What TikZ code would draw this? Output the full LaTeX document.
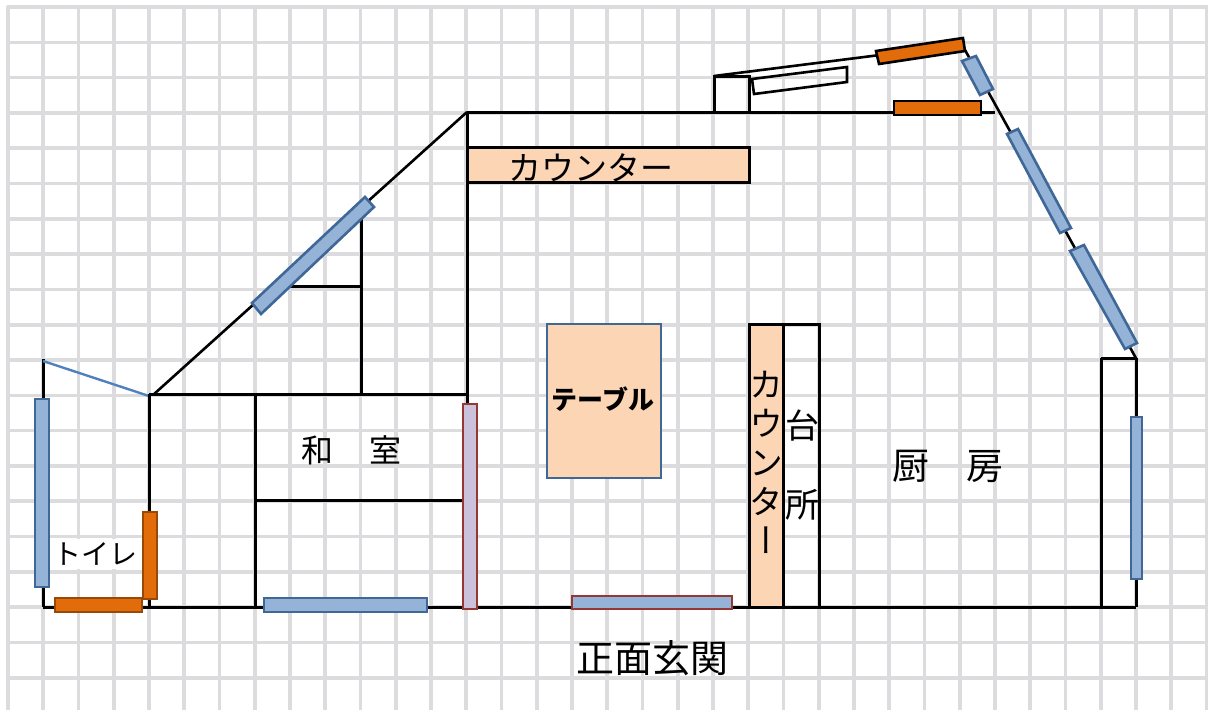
\documentclass[tikz,border=0pt]{standalone}
\usepackage{fontspec}
\newfontfamily\jpfont{Noto Sans CJK JP}
\newfontfamily\jpvert[RawFeature={+vert}]{Noto Sans CJK JP}
\definecolor{gridgray}{HTML}{DCDCDE}
\definecolor{winblue}{HTML}{95B3D7}
\definecolor{winedge}{HTML}{3F6797}
\definecolor{winorange}{HTML}{E36C0A}
\definecolor{orangeedge}{HTML}{984807}
\definecolor{lilac}{HTML}{CCC1DA}
\definecolor{dooredge}{HTML}{953735}
\definecolor{peach}{HTML}{FCD5B5}
\definecolor{thinblue}{HTML}{4F81BD}
\begin{document}
\begin{tikzpicture}[x=1pt, y=-1pt]
	\tikzset{
		gridline/.style={draw=gridgray, line width=3.6pt},
		wall/.style={draw=black, line width=3pt},
		thinwall/.style={draw=black, line width=2.6pt},
		bluewin/.style={draw=winedge, fill=winblue, line width=2.6pt},
		orangewin/.style={draw=orangeedge, fill=winorange, line width=2.6pt},
		blackwin/.style={draw=black, fill=winorange, line width=2.6pt},
		reddoor/.style={draw=dooredge, line width=2.6pt},
		counterbox/.style={draw=black, fill=peach, line width=3pt},
		label/.style={inner sep=0pt, align=center}
	}
	\useasboundingbox (0,0) rectangle (1208,710);

	% Grid
	\foreach \k in {0,...,34}
		\draw[gridline] ({8+35.25*\k},5.5) -- ({8+35.25*\k},710);
	\foreach \k in {0,...,19}
		\draw[gridline] (6.5,{7+35.3*\k}) -- (1208,{7+35.3*\k});

	% Outer walls
	\draw[wall] (467,112) -- (995,112);
	\draw[wall] (467,112) -- (467,607);
	\draw[wall] (43,607) -- (1136,607);
	\draw[wall] (43,359) -- (43,607);
	\draw[wall] (1136,358) -- (1136,607);
	\draw[wall] (1101,358) -- (1136,358);
	\draw[wall] (1101,358) -- (1101,607);
	\draw[thinwall] (153,395) -- (467,112);
	\draw[thinwall] (965,50) -- (1137,360);
	\draw[draw=thinblue, line width=2.4pt] (43,361) -- (149,396);

	% Inner walls
	\draw[wall] (149,394) -- (149,607);
	\draw[wall] (149,394) -- (467,394);
	\draw[wall] (255,394) -- (255,607);
	\draw[wall] (255,500) -- (467,500);
	\draw[wall] (361,217) -- (361,394);
	\draw[wall] (288,286.5) -- (361,286.5);
	\draw[wall] (714,112) -- (714,76) -- (749,76) -- (749,112);
	\draw[thinwall] (714,76) -- (880,55);
	\draw[wall] (819,607) -- (819,324) -- (783,324) -- (783,607);

	% Counters and table
	\draw[counterbox] (467,147) rectangle (749,182);
	\draw[counterbox] (749,324) rectangle (783,607);
	\draw[draw=winedge, fill=peach, line width=2.4pt] (547,324) rectangle (661,478);
	\draw[thinwall] (752,79) -- (847,67) -- (847,82) -- (754,94) -- cycle;

	% Windows
	\draw[bluewin] (35,399) rectangle (49,587);
	\draw[bluewin] (264,598) rectangle (427,612);
	\draw[bluewin] (1131,417) rectangle (1142,579);
	\draw[bluewin] (252,303) -- (365,197) -- (374,207) -- (261,314) -- cycle;
	\draw[bluewin] (962,61) -- (976,56) -- (993,89) -- (980,95) -- cycle;
	\draw[bluewin] (1007,134) -- (1018,129) -- (1071,228) -- (1060,233) -- cycle;
	\draw[bluewin] (1070,251) -- (1084,245) -- (1137,343) -- (1125,349) -- cycle;
	\draw[orangewin] (143,512) rectangle (157,599);
	\draw[orangewin] (55,598) rectangle (142,612);
	\draw[blackwin] (876,51) -- (963,38) -- (965,51) -- (879,64) -- cycle;
	\draw[blackwin] (894,101) rectangle (981,115);
	\draw[reddoor, fill=lilac] (463,404) rectangle (477,609);
	\draw[reddoor, fill=winblue] (572,596) rectangle (732,609);

	% Labels
	\node[label, font=\jpfont\fontsize{33}{36}\selectfont] (counterh) at (591,168) {カウンター};
	\node[label, font=\jpfont\bfseries\fontsize{26}{30}\selectfont] (tablelabel) at (603,399) {テーブル};
	\node[label, font=\jpfont\fontsize{32}{36}\selectfont] (washitsu) at (351,450) {和\hspace{36pt}室};
	\node[label, font=\jpfont\fontsize{37}{42}\selectfont] (chubo) at (948,466) {厨　房};
	\node[label, font=\jpfont\fontsize{38}{42}\selectfont] (genkan) at (652,658) {正面玄関};
	\node[fill=white, inner sep=0pt, minimum width=88pt, text height=25pt, text depth=5pt, font=\jpfont\fontsize{28}{30}\selectfont] (toilet) at (95,554) {トイレ\hspace{4pt}};
	\node[label, font=\jpvert\fontsize{34}{39}\selectfont] (counterv) at (766,462) {カ\\ウ\\ン\\タ\\ー};
	\node[label, font=\jpfont\fontsize{34}{39.5}\selectfont] (daidokoro) at (802,465) {台\\\mbox{}\\所};
\end{tikzpicture}
\end{document}
